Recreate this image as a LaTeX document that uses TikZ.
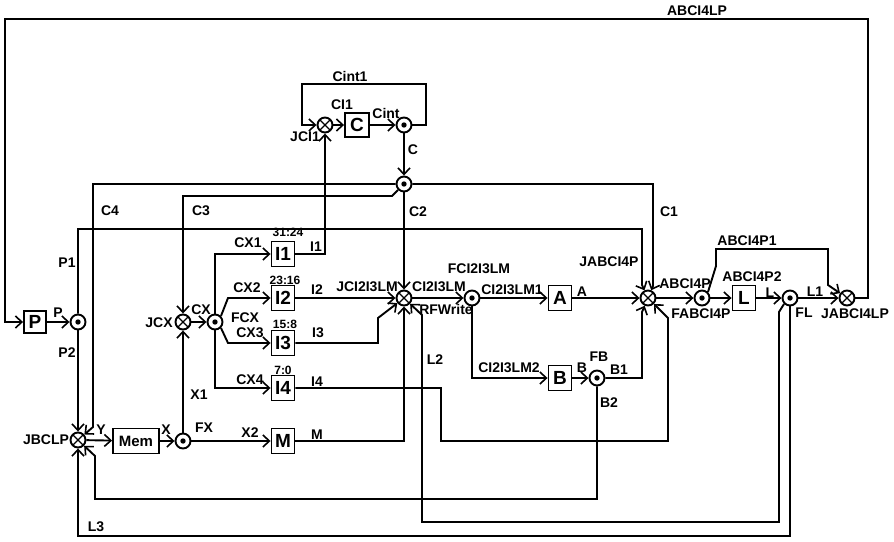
\documentclass[tikz,border=0pt]{standalone}
\usepackage{fontspec}
\setmainfont{Liberation Sans}
\usetikzlibrary{arrows.meta}
\begin{document}
\begin{tikzpicture}[x=1pt,y=-1pt,
  line width=1.9pt, line join=miter,
  arr/.style={-{Straight Barb[length=6.5pt,width=12pt,line width=1.6pt]}},
  blk/.style={draw, minimum width=23pt, minimum height=25pt, inner sep=0pt, font=\fontsize{19}{19}\selectfont\bfseries},
  jn/.style={draw, circle, minimum size=15pt, inner sep=0pt, path picture={\draw[line width=1.3pt] (path picture bounding box.north west) -- (path picture bounding box.south east) (path picture bounding box.north east) -- (path picture bounding box.south west);}},
  fk/.style={draw, circle, minimum size=15pt, inner sep=0pt, path picture={\fill (path picture bounding box.center) circle (2.7pt);}},
  lb/.style={font=\fontsize{14}{14}\selectfont\bfseries, inner sep=0pt},
  bits/.style={font=\fontsize{12}{12}\selectfont\bfseries, inner sep=0pt},
]
\useasboundingbox (0,0) rectangle (894,541);
% blocks and junctions
\node[blk, minimum width=22pt, minimum height=22pt] (P) at (35,322) {P};
\node[fk] (fp) at (78,322) {};
\node[jn] (jbclp) at (78,440) {};
\node[blk, minimum width=46pt, font=\fontsize{15}{15}\selectfont\bfseries] (mem) at (136,441) {Mem};
\node[fk] (fx) at (183,441) {};
\node[blk] (M) at (283,441) {M};
\node[jn] (jcx) at (183,322) {};
\node[fk] (fcx) at (215,322) {};
\node[blk] (I1) at (283,254) {I1};
\node[blk] (I2) at (283,298) {I2};
\node[blk] (I3) at (283,343) {I3};
\node[blk] (I4) at (283,388) {I4};
\node[jn] (jci1) at (325,125) {};
\node[blk, minimum width=24pt, minimum height=24pt] (C) at (357,125) {C};
\node[fk] (fcint) at (404,125) {};
\node[fk] (fc) at (404,184) {};
\node[jn] (jci) at (404,298) {};
\node[fk] (fci) at (472,298) {};
\node[blk] (A) at (560,298) {A};
\node[blk] (B) at (560,378) {B};
\node[fk] (fb) at (597,378) {};
\node[jn] (jab) at (648,298) {};
\node[fk] (fab) at (702,298) {};
\node[blk] (L) at (744,298) {L};
\node[fk] (fl) at (790,298) {};
\node[jn] (jablp) at (847,298) {};
% connectors
\draw[arr] (jablp.east) -- (868,298) |- (5,19) |- (P.west);
\draw[arr] (P) -- (fp);
\draw[arr] (fp.north) |- (642,229) -- (642,285) -- (jab);
\draw[arr] (fp) -- (jbclp);
\draw[arr] (fc) -- (93,184) -- (93,427) -- (jbclp);
\draw[arr] (fc.south west) -- (392,196) -| (jcx);
\draw[arr] (fc) -- (jci);
\draw[arr] (fc) -- (653,184) -- (653,286) -- (jab);
\draw[arr] (jci1) -- (C);
\draw[arr] (C) -- (fcint);
\draw[arr] (fcint) -- (426,125) |- (302,84) |- (jci1);
\draw[arr] (fcint) -- (fc);
\draw[arr] (I1) -| (jci1);
\draw[arr] (jcx) -- (fcx);
\draw[arr] (fcx) |- (I1);
\draw[arr] (fcx.north east) -- (228,298) -- (I2);
\draw[arr] (fcx.south east) -- (228,343) -- (I3);
\draw[arr] (fcx) |- (I4);
\draw[arr] (I2) -- (jci);
\draw[arr] (I3) -| (378,318) -- (jci);
\draw[arr] (I4) -| (441,441) -| (668,318) -- (jab);
\draw[arr] (M) -| (jci);
\draw[arr] (fl.south west) -- (779,312) |- (422,522) -- (422,315) -- (jci);
\draw[arr] (fl) |- (78,536) -- (jbclp);
\draw[arr] (fb) |- (95,499) -- (95,456) -- (jbclp);
\draw[arr] (jbclp) -- (mem);
\draw[arr] (mem) -- (fx);
\draw[arr] (fx) -- (jcx);
\draw[arr] (fx) -- (M);
\draw[arr] (jci) -- (fci);
\draw[arr] (fci) -- (A);
\draw[arr] (fci) |- (B);
\draw[arr] (A) -- (jab);
\draw[arr] (B) -- (fb);
\draw[arr] (fb) -| (642,312) -- (jab);
\draw[arr] (jab) -- (fab);
\draw[arr] (fab) -- (L);
\draw[arr] (L) -- (fl);
\draw[arr] (fl) -- (jablp);
\draw[arr] (fab.north east) -- (716,266) |- (828,249) -- (828,285) -- (jablp);
% labels
\node[lb] (t1) at (697,11) {ABCI4LP};
\node[lb] (t2) at (350,76) {Cint1};
\node[lb] (t3) at (342,105) {CI1};
\node[lb] (t4) at (386,113) {Cint};
\node[lb] (t5) at (305,137) {JCI1};
\node[lb] (t6) at (413,150) {C};
\node[lb] (t7) at (110,211) {C4};
\node[lb] (t8) at (201,211) {C3};
\node[lb] (t9) at (418,212) {C2};
\node[lb] (t10) at (669,212) {C1};
\node[lb] (t11) at (67,263) {P1};
\node[lb] (t12) at (58,313) {P};
\node[lb] (t13) at (67,353) {P2};
\node[lb] (t14) at (159,323) {JCX};
\node[lb] (t15) at (201,310) {CX};
\node[lb] (t16) at (245,318) {FCX};
\node[lb] (t17) at (248,243) {CX1};
\node[lb] (t18) at (247,288) {CX2};
\node[lb] (t19) at (250,333) {CX3};
\node[lb] (t20) at (250,380) {CX4};
\node[bits] (t21) at (288,232) {31:24};
\node[bits] (t22) at (285,280) {23:16};
\node[bits] (t23) at (285,324) {15:8};
\node[bits] (t24) at (283,370) {7:0};
\node[lb] (t25) at (316,247) {I1};
\node[lb] (t26) at (317,290) {I2};
\node[lb] (t27) at (318,333) {I3};
\node[lb] (t28) at (317,382) {I4};
\node[lb] (t29) at (317,435) {M};
\node[lb] (t30) at (199,395) {X1};
\node[lb] (t31) at (250,433) {X2};
\node[lb] (t32) at (204,428) {FX};
\node[lb] (t33) at (166,430) {X};
\node[lb] (t34) at (101,430) {Y};
\node[lb] (t35) at (46,440) {JBCLP};
\node[lb] (t36) at (96,527) {L3};
\node[lb] (t37) at (367,287) {JCI2I3LM};
\node[lb] (t38) at (439,287) {CI2I3LM};
\node[lb] (t39) at (446,309) {RFWrite};
\node[lb] (t40) at (479,269) {FCI2I3LM};
\node[lb] (t41) at (512,290) {CI2I3LM1};
\node[lb] (t42) at (582,292) {A};
\node[lb] (t43) at (435,360) {L2};
\node[lb] (t44) at (509,368) {CI2I3LM2};
\node[lb] (t45) at (582,368) {B};
\node[lb] (t46) at (599,357) {FB};
\node[lb] (t47) at (619,370) {B1};
\node[lb] (t48) at (609,403) {B2};
\node[lb] (t49) at (609,262) {JABCI4P};
\node[lb] (t50) at (685,284) {ABCI4P};
\node[lb] (t51) at (701,314) {FABCI4P};
\node[lb] (t52) at (747,241) {ABCI4P1};
\node[lb] (t53) at (752,277) {ABCI4P2};
\node[lb] (t54) at (770,293) {L};
\node[lb] (t55) at (815,292) {L1};
\node[lb] (t56) at (804,313) {FL};
\node[lb] (t57) at (855,314) {JABCI4LP};
\end{tikzpicture}
\end{document}
